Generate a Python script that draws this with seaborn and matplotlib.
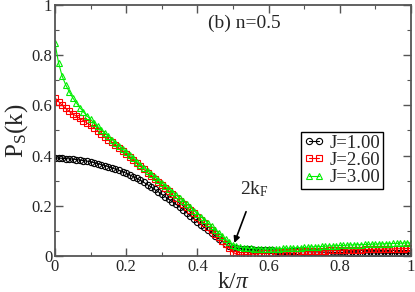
import numpy as np
import pandas as pd
import matplotlib
matplotlib.use("Agg")
import matplotlib.pyplot as plt
import seaborn as sns
from matplotlib.ticker import MultipleLocator, FuncFormatter

k = np.linspace(0, 1, 101)

p_j100 = [0.390, 0.390, 0.389, 0.388, 0.387, 0.386, 0.384, 0.382, 0.380, 0.378,
          0.375, 0.372, 0.368, 0.364, 0.360, 0.356, 0.351, 0.346, 0.341, 0.336,
          0.330, 0.323, 0.316, 0.309, 0.301, 0.293, 0.284, 0.275, 0.265, 0.256,
          0.246, 0.236, 0.226, 0.216, 0.206, 0.196, 0.185, 0.173, 0.161, 0.148,
          0.136, 0.125, 0.114, 0.103, 0.091, 0.080, 0.069, 0.058, 0.048, 0.039,
          0.033, 0.030, 0.029, 0.028, 0.027, 0.026, 0.025, 0.024, 0.023, 0.023,
          0.022, 0.022, 0.021, 0.021, 0.020, 0.019, 0.019, 0.018, 0.018, 0.017,
          0.017, 0.017, 0.016, 0.016, 0.016, 0.015, 0.015, 0.015, 0.014, 0.014,
          0.014, 0.014, 0.013, 0.013, 0.013, 0.013, 0.012, 0.012, 0.012, 0.012,
          0.012, 0.012, 0.011, 0.011, 0.011, 0.011, 0.011, 0.011, 0.011, 0.011,
          0.011]

p_j260 = [0.630, 0.615, 0.601, 0.588, 0.576, 0.566, 0.557, 0.548, 0.539, 0.530,
          0.521, 0.510, 0.499, 0.487, 0.476, 0.464, 0.453, 0.441, 0.429, 0.417,
          0.405, 0.393, 0.381, 0.369, 0.357, 0.345, 0.332, 0.320, 0.308, 0.295,
          0.283, 0.270, 0.258, 0.245, 0.233, 0.220, 0.208, 0.195, 0.183, 0.170,
          0.157, 0.144, 0.131, 0.117, 0.103, 0.089, 0.075, 0.061, 0.046, 0.030,
          0.015, 0.007, 0.005, 0.005, 0.006, 0.007, 0.008, 0.009, 0.010, 0.011,
          0.012, 0.013, 0.013, 0.014, 0.015, 0.015, 0.016, 0.017, 0.017, 0.018,
          0.018, 0.019, 0.019, 0.020, 0.020, 0.021, 0.021, 0.022, 0.022, 0.023,
          0.023, 0.024, 0.024, 0.024, 0.025, 0.025, 0.025, 0.026, 0.026, 0.026,
          0.027, 0.027, 0.027, 0.028, 0.028, 0.028, 0.029, 0.029, 0.029, 0.030,
          0.030]

p_j300 = [0.847, 0.770, 0.717, 0.682, 0.655, 0.630, 0.610, 0.591, 0.574, 0.558,
          0.544, 0.530, 0.516, 0.503, 0.490, 0.477, 0.464, 0.451, 0.438, 0.426,
          0.413, 0.401, 0.389, 0.376, 0.364, 0.352, 0.340, 0.328, 0.316, 0.303,
          0.291, 0.279, 0.267, 0.255, 0.243, 0.231, 0.218, 0.206, 0.194, 0.181,
          0.169, 0.157, 0.144, 0.131, 0.118, 0.105, 0.092, 0.079, 0.066, 0.054,
          0.045, 0.038, 0.035, 0.033, 0.031, 0.030, 0.029, 0.029, 0.028, 0.028,
          0.028, 0.028, 0.029, 0.029, 0.030, 0.030, 0.031, 0.032, 0.033, 0.033,
          0.034, 0.035, 0.036, 0.037, 0.037, 0.038, 0.039, 0.040, 0.040, 0.041,
          0.042, 0.042, 0.043, 0.044, 0.044, 0.045, 0.045, 0.046, 0.046, 0.047,
          0.047, 0.048, 0.048, 0.049, 0.049, 0.050, 0.050, 0.051, 0.051, 0.052,
          0.052]

labels = ["J=1.00", "J=2.60", "J=3.00"]
series = [p_j100, p_j260, p_j300]
colors = ["#000000", "#ff0000", "#00ee00"]
markers = ["o", "s", "^"]

sns.set_style("ticks")
plt.rcParams["font.family"] = ["Liberation Serif", "DejaVu Serif"]
plt.rcParams["mathtext.fontset"] = "custom"
plt.rcParams["mathtext.rm"] = "Liberation Serif"
plt.rcParams["mathtext.it"] = "Liberation Serif:italic"

fig = plt.figure(figsize=(4.15, 2.92), dpi=100)
ax = fig.add_axes([0.1325, 0.1233, 0.8575, 0.8597])

for lab, vals, col, mk in zip(labels, series, colors, markers):
    df = pd.DataFrame({"k": k, "P": vals})
    sns.lineplot(data=df, x="k", y="P", ax=ax, color=col, marker=mk,
                 markersize=4.5, markerfacecolor="none", markeredgecolor=col,
                 markeredgewidth=0.8, linewidth=0.8, label=lab)

ax.set_xlim(0, 1)
ax.set_ylim(0, 1)
ax.xaxis.set_major_locator(MultipleLocator(0.2))
ax.xaxis.set_minor_locator(MultipleLocator(0.1))
ax.yaxis.set_major_locator(MultipleLocator(0.2))
ax.yaxis.set_minor_locator(MultipleLocator(0.1))
fmt = FuncFormatter(lambda v, p: "0" if abs(v) < 1e-9 else ("1" if abs(v - 1) < 1e-9 else f"{v:.1f}"))
ax.xaxis.set_major_formatter(fmt)
ax.yaxis.set_major_formatter(fmt)
ax.tick_params(which="both", direction="in", top=True, right=True, color="#555555")
ax.tick_params(which="major", length=6, width=1.0, labelsize=12, pad=2)
ax.tick_params(which="minor", length=3, width=0.8)
for sp in ax.spines.values():
    sp.set_visible(True)
    sp.set_color("#555555")
    sp.set_linewidth(1.3)

ax.set_xlabel(r"k/$\pi$", fontsize=17, labelpad=-2)
ax.set_ylabel(r"P$_\mathrm{S}$(k)", fontsize=18, labelpad=1)

ax.text(0.43, 0.925, "(b) n=0.5", transform=ax.transAxes, fontsize=14, va="center", ha="left")
ax.annotate(r"2k$_\mathrm{F}$", xy=(0.504, 0.052), xytext=(0.52, 0.265),
            fontsize=14, ha="left", va="center",
            arrowprops=dict(arrowstyle="-|>", color="black", lw=1.2, shrinkA=7, shrinkB=0,
                            mutation_scale=9))

leg = ax.legend(loc="upper right", bbox_to_anchor=(0.921, 0.494), borderaxespad=0,
                fontsize=13.5, numpoints=2, handlelength=1.1, handletextpad=0.25,
                labelspacing=0.0, borderpad=0.15, fancybox=False, framealpha=1)
leg.get_frame().set_edgecolor("black")
leg.get_frame().set_linewidth(1.0)

fig.savefig("out.png", dpi=100)
